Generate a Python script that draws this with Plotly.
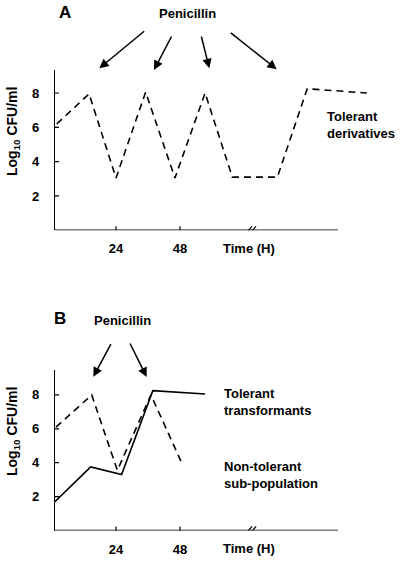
import plotly.graph_objects as go

# ---------------- data ----------------
# Panel A: culture under repeated penicillin (dashed)
a_hours = [1.8, 13.9, 24.0, 35.1, 46.1, 57.4, 67.6, 84.5, 95.7, 118.0]
a_log = [6.2, 7.95, 3.05, 8.05, 3.05, 8.0, 3.1, 3.1, 8.25, 8.0]

# Panel B: dashed (non-tolerant) and solid (tolerant transformants)
b_dash_hours = [1.5, 14.9, 24.5, 37.1, 48.6]
b_dash_log = [6.1, 8.0, 3.55, 8.0, 4.0]
b_solid_hours = [1.1, 14.5, 26.1, 37.8, 57.4]
b_solid_log = [1.7, 3.75, 3.3, 8.25, 8.05]

y_tick_vals = [2, 4, 6, 8]
x_tick_vals = [24, 48]
x_tick_text = ["24", "48"]
break_hour = 75.0
axis_end_hour = 107.25
x_range = [1.125, 121.1]

# penicillin arrows: head and tail positions in page pixels
a_arrow_head = [(99.3, 68.3), (154, 70), (209.3, 68.3), (276.7, 69.3)]
a_arrow_tail = [(145.7, 30), (172.3, 35), (201, 35), (229.3, 31.7)]
b_arrow_head = [(93.3, 376.7), (146.7, 377)]
b_arrow_tail = [(111.7, 342.7), (129.3, 342)]

W, H = 400, 564
FONT = "Liberation Sans, Arial, sans-serif"

def px(x):
    return x / W

def py(y):
    return 1 - y / H

fig = go.Figure()

dash_style = dict(color="black", width=1.6, dash="7px,5px")
solid_style = dict(color="black", width=1.6)

fig.add_trace(go.Scatter(x=a_hours, y=a_log, mode="lines", line=dash_style,
                         xaxis="x", yaxis="y", showlegend=False, hoverinfo="skip"))
fig.add_trace(go.Scatter(x=b_dash_hours, y=b_dash_log, mode="lines", line=dash_style,
                         xaxis="x2", yaxis="y2", showlegend=False, hoverinfo="skip"))
fig.add_trace(go.Scatter(x=b_solid_hours, y=b_solid_log, mode="lines", line=solid_style,
                         xaxis="x2", yaxis="y2", showlegend=False, hoverinfo="skip"))

xdom = [px(55), px(375)]
common_x = dict(range=x_range, domain=xdom, showline=False, showgrid=False,
                zeroline=False, ticks="", tickvals=x_tick_vals, ticktext=x_tick_text,
                ticklabelstandoff=9, fixedrange=True)
common_y = dict(showline=True, linecolor="black", linewidth=1.4, showgrid=False,
                zeroline=False, ticks="", tickvals=y_tick_vals,
                ticklabelstandoff=12, fixedrange=True)

fig.update_layout(
    width=W, height=H,
    margin=dict(l=0, r=0, t=0, b=0),
    paper_bgcolor="white", plot_bgcolor="white",
    font=dict(family=FONT, size=13, color="black", weight="bold"),
    xaxis=dict(**common_x, anchor="y"),
    yaxis=dict(**common_y, range=[0, 9.34], domain=[py(230.3), py(70)], anchor="x"),
    xaxis2=dict(**common_x, anchor="y2"),
    yaxis2=dict(**common_y, range=[0, 9.47], domain=[py(530.5), py(370)], anchor="x2"),
)

shapes = []
for xr, yr in (("x", "y"), ("x2", "y2")):
    shapes.append(dict(type="line", xref=xr, yref=yr, x0=x_range[0], x1=axis_end_hour,
                       y0=0, y1=0, line=dict(color="black", width=1.4)))
    for v in y_tick_vals:
        shapes.append(dict(type="line", xref=xr, yref=yr, xsizemode="pixel",
                           xanchor=x_range[0], x0=-4, x1=4, y0=v, y1=v,
                           line=dict(color="black", width=1.2)))
    for v in x_tick_vals:
        shapes.append(dict(type="line", xref=xr, yref=yr, ysizemode="pixel",
                           yanchor=0, y0=-4, y1=4, x0=v, x1=v,
                           line=dict(color="black", width=1.2)))
    for off in (-4, 0):
        shapes.append(dict(type="line", xref=xr, yref=yr, xsizemode="pixel",
                           ysizemode="pixel", xanchor=break_hour, yanchor=0,
                           x0=off - 3, x1=off + 4, y0=-4, y1=4,
                           line=dict(color="black", width=1.2)))
fig.update_layout(shapes=shapes)

ann = []
for heads, tails in ((a_arrow_head, a_arrow_tail), (b_arrow_head, b_arrow_tail)):
    for (hx, hy), (tx, ty) in zip(heads, tails):
        ann.append(dict(x=px(hx), y=py(hy), xref="paper", yref="paper",
                        ax=tx - hx, ay=ty - hy, axref="pixel", ayref="pixel",
                        showarrow=True, arrowhead=2, arrowsize=1.25, arrowwidth=1.5,
                        arrowcolor="black", text=""))

def label(text, x, y, size=13, xanchor="center", align="center"):
    ann.append(dict(text=text, x=px(x), y=py(y), xref="paper", yref="paper",
                    showarrow=False, xanchor=xanchor, yanchor="middle", align=align,
                    font=dict(size=size)))

label("A", 64.5, 12.5, size=17)
label("Penicillin", 187, 14)
label("Tolerant<br>derivatives", 325, 125, xanchor="left", align="left")
label("B", 60, 318.5, size=17)
label("Penicillin", 122, 320)
label("Tolerant<br>transformants", 222, 402, xanchor="left", align="left")
label("Non-tolerant<br>sub-population", 222, 475, xanchor="left", align="left")

for yr, xr in (("y", "x"), ("y2", "x2")):
    ann.append(dict(text="Time (H)", x=74.0, y=0, xref=xr, yref=yr, yshift=-18,
                    showarrow=False, xanchor="center", yanchor="middle"))

for yc in (131.5, 431.5):
    ann.append(dict(text="Log<sub>10</sub> CFU/ml", x=px(12.5), y=py(yc), xref="paper",
                    yref="paper", textangle=-90, showarrow=False,
                    xanchor="center", yanchor="middle", font=dict(size=14)))

fig.update_layout(annotations=ann)

fig.write_html("out.html", config={"displayModeBar": False},
               post_script="document.body.style.margin='0';")
